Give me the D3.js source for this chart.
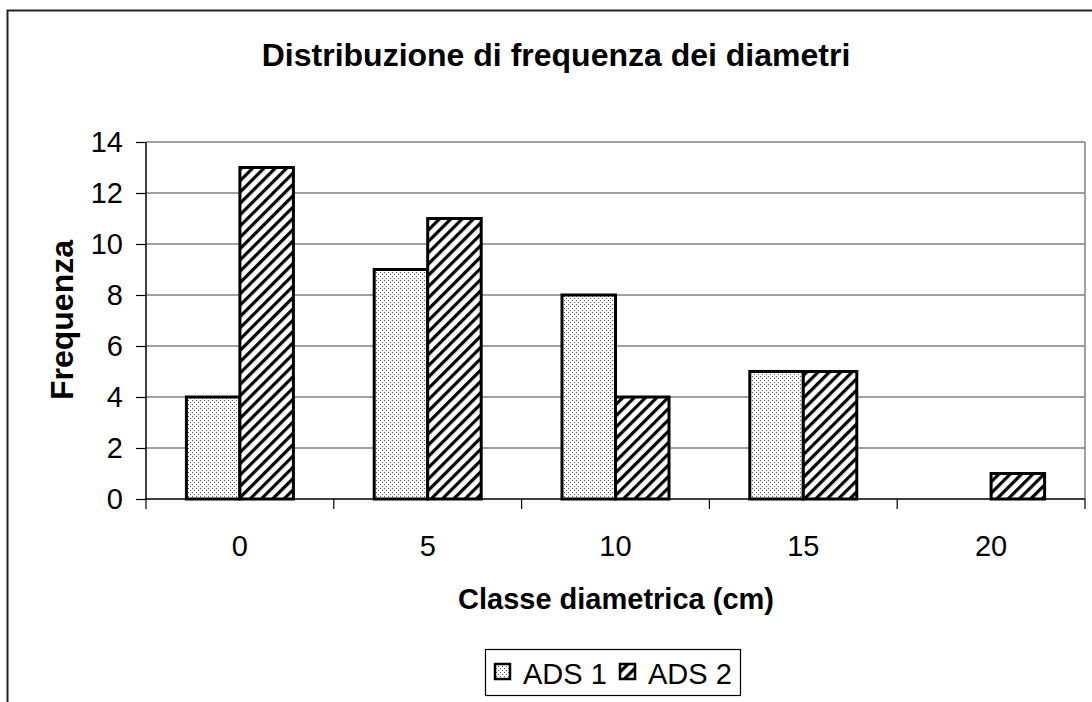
<!DOCTYPE html>
<html>
<head>
<meta charset="utf-8">
<script src="https://cdn.jsdelivr.net/npm/d3@7"></script>
<style>
html,body{margin:0;padding:0;background:#fff;}
svg{display:block;font-family:"Liberation Sans",Arial,sans-serif;}
</style>
</head>
<body>
<svg id="chart" width="1092" height="702"></svg>
<script>
const categories = ["0","5","10","15","20"];
const seriesNames = ["ADS 1","ADS 2"];
const ads1 = [4,9,8,5,0];
const ads2 = [13,11,4,5,1];
const yTicks = [0,2,4,6,8,10,12,14];

const svg = d3.select("#chart");
const W = 1092, H = 702;
const m = {left:146, right:1085, top:142, bottom:499};

// patterns
const defs = svg.append("defs");
const pDot = defs.append("pattern").attr("id","pDot").attr("patternUnits","userSpaceOnUse")
  .attr("width",4).attr("height",4);
pDot.append("rect").attr("width",4).attr("height",4).attr("fill","#fff");
pDot.append("rect").attr("x",0).attr("y",0).attr("width",1).attr("height",1).attr("fill","#555");
pDot.append("rect").attr("x",2).attr("y",2).attr("width",1).attr("height",1).attr("fill","#555");

const pDiag = defs.append("pattern").attr("id","pDiag").attr("patternUnits","userSpaceOnUse")
  .attr("width",8).attr("height",8).attr("patternTransform","rotate(45)");
pDiag.append("rect").attr("width",8).attr("height",8).attr("fill","#fff");
pDiag.append("rect").attr("x",0).attr("y",0).attr("width",3.2).attr("height",8).attr("fill","#000");

const fills = ["url(#pDot)","url(#pDiag)"];

// outer border
svg.append("path").attr("d",`M7.5,${H} L7.5,10.5 L${W},10.5`).attr("fill","none")
  .attr("stroke","#222").attr("stroke-width",2);

const x = d3.scaleBand().domain(categories).range([m.left,m.right]).paddingInner(0).paddingOuter(0);
const y = d3.scaleLinear().domain([0,14]).range([m.bottom,m.top]);
const inner = d3.scaleBand().domain(seriesNames).range([0,107]);

// gridlines
svg.append("g").selectAll("line").data(yTicks.filter(d=>d>0)).join("line")
  .attr("x1",m.left).attr("x2",m.right).attr("y1",d=>y(d)).attr("y2",d=>y(d))
  .attr("stroke","#808080").attr("stroke-width",1.5);
// plot area right border
svg.append("line").attr("x1",m.right).attr("x2",m.right).attr("y1",m.top).attr("y2",m.bottom)
  .attr("stroke","#808080").attr("stroke-width",1.5);

// bars
const data = [ads1, ads2];
data.forEach((vals,si)=>{
  svg.append("g").selectAll("rect").data(vals.map((v,i)=>({v,c:categories[i]})).filter(d=>d.v>0)).join("rect")
    .attr("x",d=>x(d.c)+x.bandwidth()/2-53.5+inner(seriesNames[si]))
    .attr("y",d=>y(d.v))
    .attr("width",inner.bandwidth())
    .attr("height",d=>y(0)-y(d.v))
    .attr("fill",fills[si]).attr("stroke","#000").attr("stroke-width",3);
});

// y axis
const yAxis = d3.axisLeft(y).tickValues(yTicks).tickSize(10).tickPadding(13).tickFormat(d3.format("d"));
const gy = svg.append("g").attr("transform",`translate(${m.left},0)`).call(yAxis);
gy.select(".domain").attr("stroke","#000").attr("stroke-width",1.5).attr("d",`M0,${m.top}V${m.bottom}`);
gy.selectAll(".tick line").attr("stroke","#000").attr("stroke-width",1.2);
gy.selectAll(".tick text").attr("font-size",29).attr("fill","#000").attr("font-family","Liberation Sans, Arial, sans-serif");

// x axis
const gx = svg.append("g").attr("transform",`translate(0,${m.bottom})`);
gx.append("line").attr("x1",m.left).attr("x2",m.right).attr("stroke","#000").attr("stroke-width",1.5);
const bounds = categories.map(c=>x(c)).concat([m.right]);
gx.selectAll("line.tk").data(bounds).join("line").attr("class","tk")
  .attr("x1",d=>d).attr("x2",d=>d).attr("y1",0).attr("y2",10).attr("stroke","#000").attr("stroke-width",1.2);
gx.selectAll("text").data(categories).join("text")
  .attr("x",d=>x(d)+x.bandwidth()/2).attr("y",57).attr("text-anchor","middle")
  .attr("font-size",29).attr("fill","#000").text(d=>d);

// titles
svg.append("text").attr("x",556).attr("y",66).attr("text-anchor","middle")
  .attr("font-size",32).attr("font-weight","bold").text("Distribuzione di frequenza dei diametri");
svg.append("text").attr("x",616).attr("y",609).attr("text-anchor","middle")
  .attr("font-size",29).attr("font-weight","bold").text("Classe diametrica (cm)");
svg.append("text").attr("transform","translate(73,320) rotate(-90)").attr("text-anchor","middle")
  .attr("font-size",32).attr("font-weight","bold").text("Frequenza");

// legend
const lg = svg.append("g");
lg.append("rect").attr("x",485.5).attr("y",649.5).attr("width",255).attr("height",46)
  .attr("fill","#fff").attr("stroke","#000").attr("stroke-width",1.2);
const lx = [495, 620];
seriesNames.forEach((s,i)=>{
  lg.append("rect").attr("x",lx[i]).attr("y",664).attr("width",15).attr("height",15)
    .attr("fill",fills[i]).attr("stroke","#000").attr("stroke-width",2.5);
  lg.append("text").attr("x",lx[i]+28).attr("y",684).attr("font-size",29).attr("fill","#000").text(s);
});
</script>
</body>
</html>
